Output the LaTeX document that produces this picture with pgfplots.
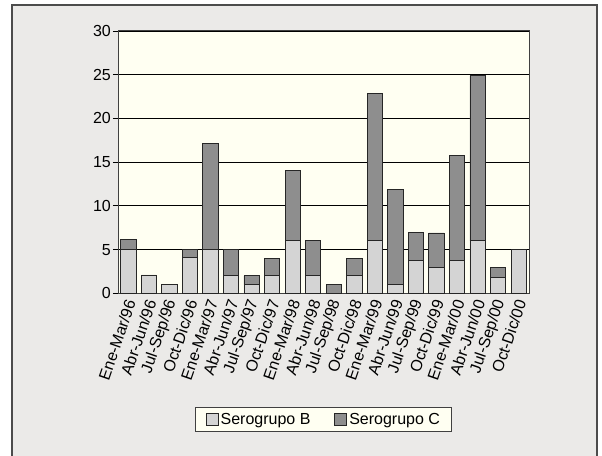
\documentclass[border=0pt]{standalone}
\usepackage{fontspec}
\setmainfont{Liberation Sans}
\usepackage{pgfplots}
\pgfplotsset{compat=1.18}
\definecolor{bgout}{HTML}{EBEAE8}
\definecolor{bgplot}{HTML}{FFFFF2}
\definecolor{serB}{HTML}{D4D4D4}
\definecolor{serC}{HTML}{8E8E8E}
\begin{document}
\begin{tikzpicture}
\useasboundingbox (0bp,0bp) rectangle (602bp,456bp);
\fill[white] (0bp,0bp) rectangle (602bp,456bp);
\fill[bgout] (12bp,0bp) rectangle (597bp,451bp);
\draw[black!70, line width=1.5bp] (12bp,-2bp) -- (12bp,451bp) -- (597bp,451bp) -- (597bp,-2bp);
\begin{axis}[
  at={(118bp,162.7bp)}, anchor=south west,
  scale only axis, width=411bp, height=262.3bp,
  ybar stacked, bar width=15.3bp,
  xmin=-0.5, xmax=19.5, ymin=0, ymax=30,
  ytick={0,5,...,30},
  xtick={0,...,19},
  xticklabels={Ene-Mar/96,Abr-Jun/96,Jul-Sep/96,Oct-Dic/96,Ene-Mar/97,Abr-Jun/97,Jul-Sep/97,Oct-Dic/97,Ene-Mar/98,Abr-Jun/98,Jul-Sep/98,Oct-Dic/98,Ene-Mar/99,Abr-Jun/99,Jul-Sep/99,Oct-Dic/99,Ene-Mar/00,Abr-Jun/00,Jul-Sep/00,Oct-Dic/00},
  minor xtick={-0.5,0.5,...,19.5},
  tick align=outside, tick pos=left,
  major tick length=5bp, minor tick length=5bp,
  xtick style={draw=none},
  minor x tick style={black, line width=0.9bp},
  ytick style={black, line width=0.9bp},
  ymajorgrids, grid style={black, line width=0.9bp},
  axis line style={black!75, line width=1bp},
  axis background/.style={fill=bgplot},
  /pgf/number format/assume math mode=true,
  xticklabel style={font=\fontsize{16bp}{18bp}\selectfont, text=black, rotate=71, anchor=east, inner sep=1bp, yshift=-3bp},
  yticklabel style={font=\fontsize{16bp}{18bp}\selectfont, text=black, inner sep=2bp},
  legend style={at={(0.501,-0.481)}, anchor=center, legend columns=2,
    fill=bgplot, draw=black!75, line width=1bp,
    font=\fontsize{16bp}{19bp}\selectfont, inner xsep=10bp, inner ysep=4bp,
    /tikz/every even column/.append style={column sep=22bp}},
  legend image code/.code={\draw[#1, line width=0.8bp] (0bp,-6bp) rectangle (12bp,6bp);},
]
\addplot[fill=serB, draw=black!85, line width=0.8bp] coordinates {
(0,5) (1,2.1) (2,1) (3,4.1) (4,5) (5,2) (6,1) (7,2) (8,6) (9,2)
(10,0) (11,2) (12,6) (13,1) (14,3.8) (15,2.95) (16,3.8) (17,6) (18,1.85) (19,5)};
\addplot[fill=serC, draw=black!85, line width=0.8bp] coordinates {
(0,1.15) (1,0) (2,0) (3,0.9) (4,12.1) (5,3) (6,1) (7,2) (8,8) (9,4)
(10,1.05) (11,2) (12,16.9) (13,10.9) (14,3.2) (15,3.95) (16,12) (17,18.9) (18,1.1) (19,0)};
\legend{Serogrupo B,Serogrupo C}
\end{axis}
\end{tikzpicture}
\end{document}
